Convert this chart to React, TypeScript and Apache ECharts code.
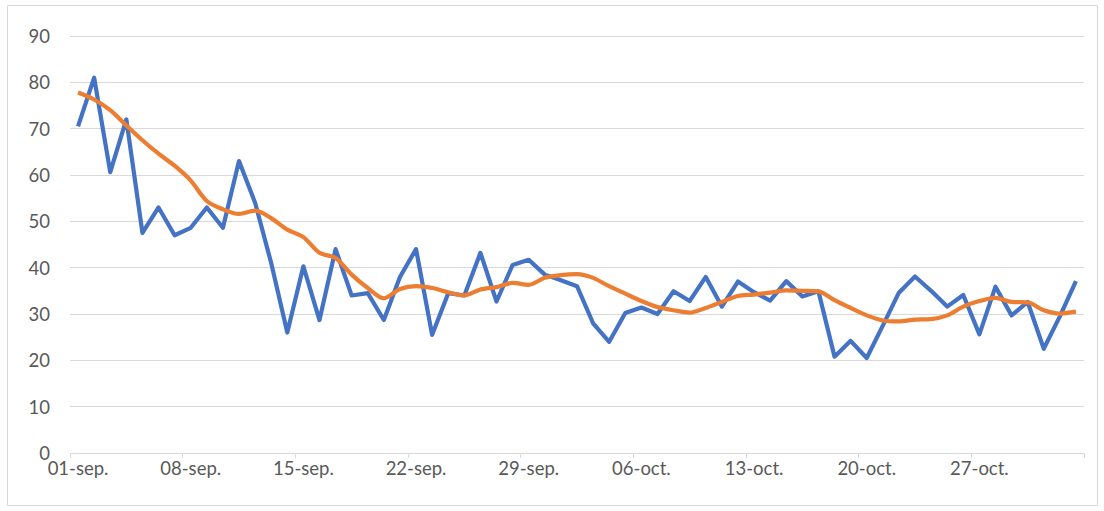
import React, { useEffect, useRef } from "react";
import * as echarts from "echarts";

const months = ["sep.", "oct.", "nov."];
const monthDays = [30, 31, 2];

const categories: string[] = [];
monthDays.forEach((n, m) => {
  for (let d = 1; d <= n; d++) {
    categories.push(String(d).padStart(2, "0") + "-" + months[m]);
  }
});

const dailyValues = [
  70.5, 81, 60.6, 72, 47.5, 53, 47, 48.6, 53, 48.6,
  63, 54, 41, 26, 40.3, 28.7, 44, 34, 34.5, 28.7,
  38, 44, 25.5, 34.5, 34, 43.2, 32.7, 40.6, 41.7, 38.5,
  37.3, 36, 28, 24, 30.2, 31.4, 30, 34.9, 32.8, 38,
  31.6, 37, 34.7, 32.9, 37.1, 33.8, 34.9, 20.8, 24.2, 20.5,
  27.5, 34.6, 38.1, 35, 31.6, 34.1, 25.6, 35.9, 29.7, 32.6,
  22.5, 29.5, 37.1,
];

const trendValues = [
  77.8, 76.3, 74, 70.7, 67.5, 64.6, 62, 58.8, 54.4, 52.6,
  51.6, 52.3, 50.7, 48.2, 46.6, 43.2, 42.1, 38.5, 35.6, 33.4,
  35.4, 36, 35.6, 34.7, 34, 35.3, 35.8, 36.7, 36.3, 37.8,
  38.4, 38.6, 37.8, 36, 34.4, 32.8, 31.5, 30.8, 30.3, 31.3,
  32.6, 33.9, 34.2, 34.6, 35.1, 35, 34.9, 33, 31.3, 29.7,
  28.6, 28.4, 28.8, 28.9, 29.7, 31.6, 32.8, 33.5, 32.6, 32.5,
  30.8, 30.1, 30.5,
];

const yTicks = [0, 10, 20, 30, 40, 50, 60, 70, 80, 90];

export default function App() {
  const ref = useRef<HTMLDivElement>(null);
  useEffect(() => {
    if (!ref.current) return;
    const chart = echarts.init(ref.current, null, { renderer: "svg" });
    const font = "Lato, 'Open Sans', sans-serif";
    chart.setOption({
      animation: false,
      backgroundColor: "#ffffff",
      textStyle: { fontFamily: font },
      graphic: [
        {
          type: "rect",
          shape: { x: 7.5, y: 5.5, width: 1090, height: 500 },
          style: { fill: "none", stroke: "#d9d9d9", lineWidth: 1 },
          silent: true,
        },
      ],
      grid: { left: 70, right: 20, top: 36, bottom: 58 },
      xAxis: {
        type: "category",
        data: categories,
        boundaryGap: true,
        axisLine: { show: true, lineStyle: { color: "#d9d9d9", width: 1 } },
        axisTick: {
          show: true,
          interval: 6,
          length: 5,
          lineStyle: { color: "#d9d9d9" },
        },
        axisLabel: {
          interval: 6,
          color: "#595959",
          fontSize: 18.5,
          fontFamily: font,
          margin: 5,
        },
        splitLine: { show: false },
      },
      yAxis: {
        type: "value",
        min: yTicks[0],
        max: yTicks[yTicks.length - 1],
        interval: 10,
        axisLine: { show: false },
        axisTick: { show: false },
        axisLabel: {
          color: "#595959",
          fontSize: 18.5,
          fontFamily: font,
          margin: 20,
        },
        splitLine: { show: true, lineStyle: { color: "#d9d9d9", width: 1 } },
      },
      series: [
        {
          type: "line",
          data: dailyValues,
          symbol: "none",
          lineStyle: { color: "#4472C4", width: 4.2, join: "round" },
          itemStyle: { color: "#4472C4" },
        },
        {
          type: "line",
          data: trendValues,
          symbol: "none",
          smooth: 0.3,
          lineStyle: { color: "#ED7D31", width: 4.2 },
          itemStyle: { color: "#ED7D31" },
        },
      ],
    });
    return () => chart.dispose();
  }, []);
  return (
    <div
      ref={ref}
      style={{ position: "absolute", left: 0, top: 0, width: 1104, height: 511 }}
    />
  );
}
